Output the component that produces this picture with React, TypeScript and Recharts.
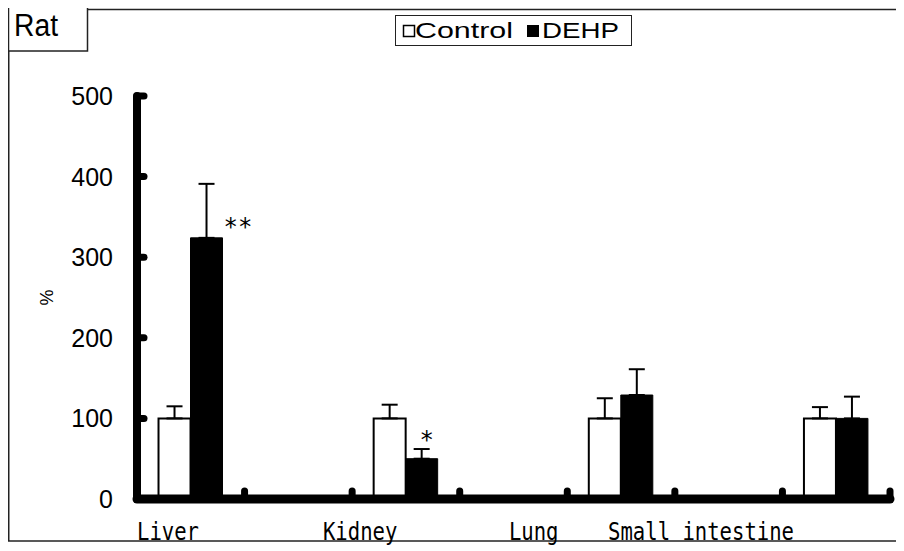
import React from "react";
import { BarChart, Bar, XAxis, YAxis, ErrorBar, LabelList } from "recharts";

// ---- data ----
const categories = ["Liver", "", "Kidney", "", "Lung", "", "Small intestine"];
const controlValues: (number | null)[] = [100, null, 100, null, 100, null, 100];
const controlErrors: (number | null)[] = [15, null, 17, null, 25, null, 14];
const dehpValues: (number | null)[] = [324, null, 50, null, 129, null, 100];
const dehpErrors: (number | null)[] = [67, null, 12, null, 32, null, 27];
const significance = ["* *", "", "*", "", "", "", ""];
const yTicks = [0, 100, 200, 300, 400, 500];
const seriesNames = ["Control", "DEHP"];
const panelTitle = "Rat";
const yAxisTitle = "%";

// ---- layout / style ----
const W = 896;
const H = 543;
const MONO = "'DejaVu Sans Mono', monospace";
const SANS = "'Liberation Sans', Arial, sans-serif";
const labelColumns = [0, 15, 30, 38]; // text-box columns of the category captions

const YTick = (props: any) => {
  const { x, y, payload } = props;
  return (
    <g>
      <line x1={x} x2={x + 7} y1={y} y2={y} stroke="#000" strokeWidth={7} strokeLinecap="round" />
      <text x={x - 24} y={y} textAnchor="end" dominantBaseline="central" fontFamily={SANS} fontSize={25} fill="#000">
        {payload.value}
      </text>
    </g>
  );
};

const XTick = (props: any) => {
  const { x, y, payload } = props;
  const half = payload && typeof payload.offset === "number" ? payload.offset : 0;
  const bx = x + half;
  return <line x1={bx} x2={bx} y1={y} y2={y - 8} stroke="#000" strokeWidth={7} strokeLinecap="round" />;
};

const SigLabel = (props: any) => {
  const { x, y, width, value } = props;
  if (!value) return null;
  if (value.length > 1) {
    return (
      <text x={x + width + 1} y={y - 3} fontFamily={MONO} fontSize={24} fill="#000" textLength={29} lengthAdjust="spacing" xmlSpace="preserve">
        {value}
      </text>
    );
  }
  return (
    <text x={x + width / 2 + 5} y={y - 11} textAnchor="middle" fontFamily={MONO} fontSize={24} fill="#000">
      {value}
    </text>
  );
};

export default function App() {
  const data = categories.map((name, i) => ({
    id: String(i),
    name,
    control: controlValues[i],
    controlErr: controlErrors[i] == null ? null : [0, controlErrors[i] as number],
    dehp: dehpValues[i],
    dehpErr: dehpErrors[i] == null ? null : [0, dehpErrors[i] as number],
    sig: significance[i],
  }));

  // caption row (monospace text box)
  const named = categories.filter((c) => c);
  let caption = "";
  named.forEach((n, k) => {
    while (caption.length < labelColumns[k]) caption += " ";
    caption += n;
  });

  return (
    <div style={{ position: "relative", width: W, height: H }}>
      <BarChart
        width={W}
        height={H}
        data={data}
        margin={{ top: 88, right: 14, bottom: 0, left: 0 }}
        barCategoryGap="20%"
        barGap={0}
      >
        <XAxis
          dataKey="id"
          type="category"
          height={52}
          tickSize={0}
          tickMargin={0}
          tickLine={false}
          interval={0}
          tick={<XTick />}
          axisLine={{ stroke: "#000", strokeWidth: 9, strokeLinecap: "round" }}
        />
        <YAxis
          width={129}
          domain={[0, 500]}
          ticks={yTicks}
          tickSize={0}
          tickMargin={0}
          tickLine={false}
          interval={0}
          tick={<YTick />}
          axisLine={{ stroke: "#000", strokeWidth: 8, strokeLinecap: "round" }}
        />
        <Bar dataKey="control" name={seriesNames[0]} fill="#fff" stroke="#000" strokeWidth={2} isAnimationActive={false}>
          <ErrorBar dataKey="controlErr" width={8} stroke="#000" strokeWidth={2} direction="y" />
        </Bar>
        <Bar dataKey="dehp" name={seriesNames[1]} fill="#000" stroke="#000" strokeWidth={1} isAnimationActive={false}>
          <ErrorBar dataKey="dehpErr" width={8} stroke="#000" strokeWidth={2} direction="y" />
          <LabelList dataKey="sig" content={<SigLabel />} />
        </Bar>
      </BarChart>

      <svg
        width={W}
        height={H}
        style={{ position: "absolute", left: 0, top: 0, overflow: "visible", pointerEvents: "none" }}
      >
        {/* frame */}
        <line x1={0} x2={W} y1={1.5} y2={1.5} stroke="#222" strokeWidth={1.5} />
        <line x1={0.75} x2={0.75} y1={1} y2={533} stroke="#222" strokeWidth={1.5} />
        <line x1={0} x2={W} y1={533} y2={533} stroke="#222" strokeWidth={1.5} />
        {/* panel title box */}
        <rect x={0.5} y={-4} width={79} height={47} fill="#fff" stroke="#222" strokeWidth={1.5} />
        <text x={6} y={28} fontFamily={SANS} fontSize={31} fill="#000" textLength={44} lengthAdjust="spacingAndGlyphs">
          {panelTitle}
        </text>
        {/* legend */}
        <rect x={387.5} y={7.5} width={236} height={30} fill="#fff" stroke="#222" strokeWidth={1} />
        <rect x={395.5} y={17.5} width={11} height={11} fill="#fff" stroke="#000" strokeWidth={1.5} />
        <text x={407} y={30} fontFamily={SANS} fontSize={22} fill="#000" textLength={98} lengthAdjust="spacingAndGlyphs">
          {seriesNames[0]}
        </text>
        <rect x={519} y={17} width={12} height={12} fill="#000" />
        <text x={534} y={30} fontFamily={SANS} fontSize={22} fill="#000" textLength={77} lengthAdjust="spacingAndGlyphs">
          {seriesNames[1]}
        </text>
        {/* y axis title */}
        <text
          x={39}
          y={289.5}
          transform="rotate(-90 39 289.5)"
          textAnchor="middle"
          dominantBaseline="central"
          fontFamily={SANS}
          fontSize={18}
          fill="#000"
        >
          {yAxisTitle}
        </text>
        {/* category captions */}
        <text
          x={129}
          y={532}
          fontFamily={MONO}
          fontSize={24}
          fill="#000"
          style={{ whiteSpace: "pre" }}
          xmlSpace="preserve"
          textLength={657}
          lengthAdjust="spacingAndGlyphs"
        >
          {caption}
        </text>
      </svg>
    </div>
  );
}
